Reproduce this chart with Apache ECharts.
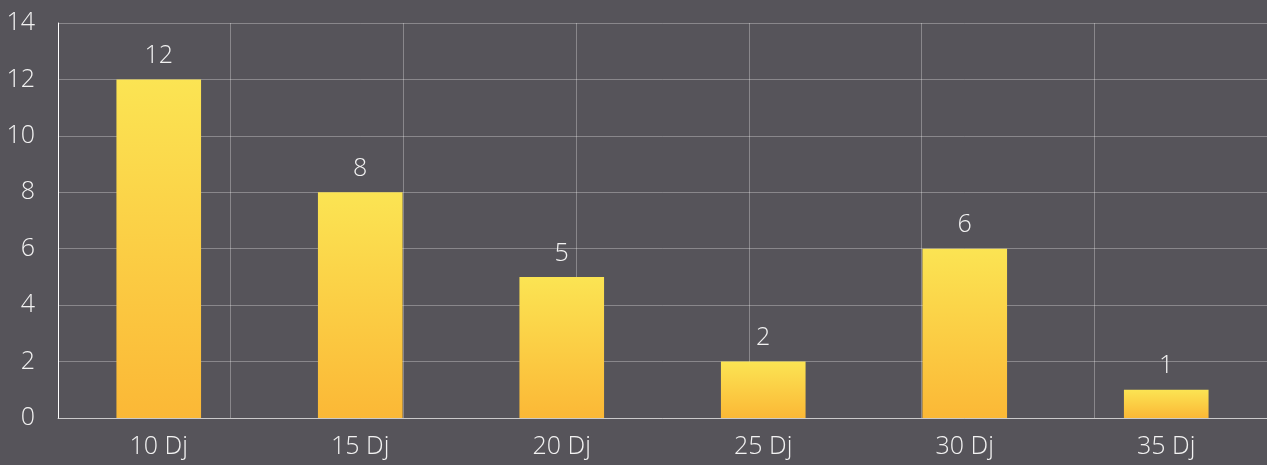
<!DOCTYPE html>
<html>
<head>
<meta charset="utf-8">
<script src="https://cdn.jsdelivr.net/npm/echarts@6/dist/echarts.min.js"></script>
<style>
html,body{margin:0;padding:0;background:#56545A;}
#chart{width:1267px;height:465px;}
</style>
</head>
<body>
<div id="chart"></div>
<script>
const categories = ["10 Dj", "15 Dj", "20 Dj", "25 Dj", "30 Dj", "35 Dj"];
const values = [12, 8, 5, 2, 6, 1];
const yTicks = { min: 0, max: 14, interval: 2 };
const vGrid = { min: 0, max: 7, interval: 1 };

const chart = echarts.init(document.getElementById('chart'));
const font = '"Open Sans", Lato, sans-serif';
chart.setOption({
  backgroundColor: '#56545A',
  animation: false,
  grid: { left: 58, right: 0, top: 23, bottom: 47 },
  xAxis: [{
    type: 'category',
    data: categories,
    axisLine: { lineStyle: { color: 'rgba(255,255,255,0.55)', width: 1 } },
    axisTick: { show: false },
    axisLabel: { color: '#f2f2f2', fontSize: 25, fontWeight: 300, fontFamily: font, margin: 16 },
    splitLine: { show: false }
  }, {
    type: 'value',
    position: 'bottom',
    min: vGrid.min, max: vGrid.max, interval: vGrid.interval,
    axisLine: { show: false },
    axisTick: { show: false },
    axisLabel: { show: false },
    splitLine: { show: true, lineStyle: { color: 'rgba(255,255,255,0.3)', width: 1 } }
  }],
  yAxis: {
    type: 'value',
    min: yTicks.min, max: yTicks.max, interval: yTicks.interval,
    axisLine: { show: true, lineStyle: { color: '#ffffff', width: 1 } },
    axisTick: { show: false },
    axisLabel: { color: '#f2f2f2', fontSize: 25, fontWeight: 300, fontFamily: font, margin: 23 },
    splitLine: { lineStyle: { color: 'rgba(255,255,255,0.3)', width: 1 } }
  },
  series: [{
    type: 'bar',
    xAxisIndex: 0,
    data: values,
    barWidth: '42%',
    itemStyle: {
      color: new echarts.graphic.LinearGradient(0, 0, 0, 1, [
        { offset: 0, color: '#FBE453' },
        { offset: 1, color: '#FBB836' }
      ])
    },
    label: {
      show: true, position: 'top', distance: 11,
      color: '#f2f2f2', fontSize: 25, fontWeight: 300, fontFamily: font
    }
  }]
});
</script>
</body>
</html>
